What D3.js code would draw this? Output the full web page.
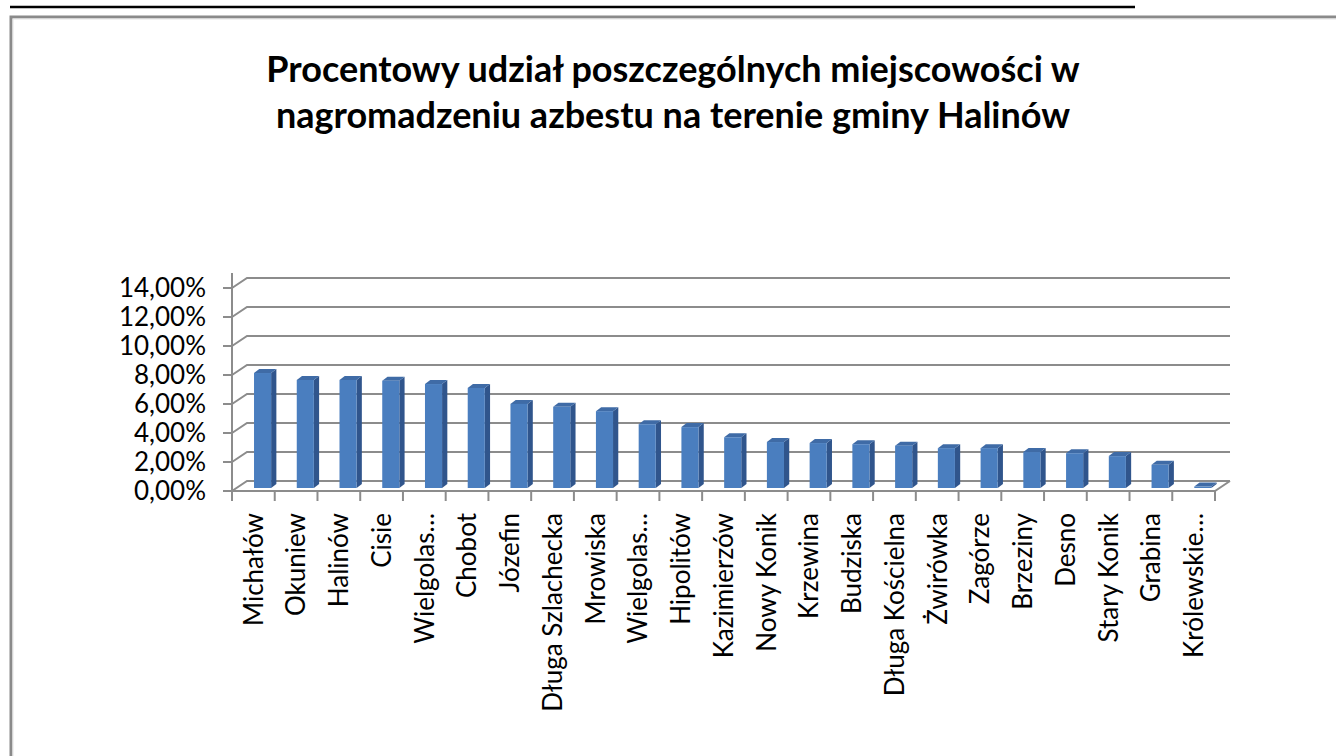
<!DOCTYPE html>
<html>
<head>
<meta charset="utf-8">
<script src="https://cdn.jsdelivr.net/npm/d3@7"></script>
<style>
  body { margin: 0; background: #fff; }
  svg { display: block; }
</style>
</head>
<body>
<svg id="chart" width="1336" height="756"></svg>
<script>
const titleLines = ["Procentowy udział poszczególnych miejscowości w",
                    "nagromadzeniu azbestu na terenie gminy Halinów"];

const places = ["Michałów", "Okuniew", "Halinów", "Cisie", "Wielgolas…", "Chobot", "Józefin",
                "Długa Szlachecka", "Mrowiska", "Wielgolas…", "Hipolitów", "Kazimierzów",
                "Nowy Konik", "Krzewina", "Budziska", "Długa Kościelna", "Żwirówka", "Zagórze",
                "Brzeziny", "Desno", "Stary Konik", "Grabina", "Królewskie…"];

const shares = [7.93, 7.45, 7.45, 7.40, 7.17, 6.90, 5.80, 5.60, 5.30, 4.40, 4.20, 3.50,
                3.17, 3.10, 3.02, 2.92, 2.75, 2.75, 2.48, 2.40, 2.20, 1.60, 0.10];

const yTicks = [0, 2, 4, 6, 8, 10, 12, 14];

class Chart3D{
    constructor(svg){
        this.svg = svg;
        this.left = 232;
        this.right = 1215;
        this.base = 491;
        this.top = 288;
        this.depth = [15, -10];   // shift from the front plane to the back wall
        this.font = "Lato, 'Open Sans', sans-serif";

        this.x = d3.scaleBand().domain(d3.range(places.length)).range([this.left, this.right]);
        this.y = d3.scaleLinear().domain([0, 14]).range([this.base, this.top]);
    }

    frame(){
        this.svg.append("line")
            .attr("x1", 10).attr("x2", 1135)
            .attr("y1", 7).attr("y2", 7)
            .attr("stroke", "#000").attr("stroke-width", 2.5);
        this.svg.append("rect")
            .attr("x", 11).attr("y", 17)
            .attr("width", 1400).attr("height", 800)
            .attr("fill", "none")
            .attr("stroke", "#8a8a8a").attr("stroke-width", 3);
        this.svg.append("rect")
            .attr("x", 13).attr("y", 19)
            .attr("width", 1400).attr("height", 800)
            .attr("fill", "none")
            .attr("stroke", "#e4e4e4").attr("stroke-width", 1);
    }

    title(){
        this.svg.append("g").selectAll("text")
            .data(titleLines)
            .join("text")
                .attr("x", 673)
                .attr("y", (d, i) => 82 + i * 46)
                .attr("text-anchor", "middle")
                .attr("font-family", this.font)
                .attr("font-weight", "bold")
                .attr("font-size", 36)
                .attr("fill", "#000")
                .text(d => d);
    }

    walls(){
        let [dx, dy] = this.depth;
        let g = this.svg.append("g")
            .attr("stroke", "#8c8c8c")
            .attr("stroke-width", 2)
            .attr("fill", "none");

        // back wall grid + left wall diagonals
        yTicks.forEach(t => {
            let yy = this.y(t);
            g.append("polyline")
                .attr("points", [[this.left, yy], [this.left + dx, yy + dy], [this.right + dx, yy + dy]].join(" "));
        });

        // floor
        g.append("polyline")
            .attr("points", [[this.left, this.base], [this.right, this.base], [this.right + dx, this.base + dy]].join(" "));

        // value axis and its ticks
        g.append("line")
            .attr("x1", this.left).attr("x2", this.left)
            .attr("y1", this.top - 15).attr("y2", this.base + 2);
        g.selectAll(".ytick")
            .data(yTicks)
            .join("line")
                .attr("x1", this.left - 9).attr("x2", this.left)
                .attr("y1", d => this.y(d)).attr("y2", d => this.y(d));

        // category ticks below the floor
        let edges = d3.range(places.length + 1).map(i => this.left + i * this.x.step());
        g.selectAll(".xtick")
            .data(edges)
            .join("line")
                .attr("x1", d => d).attr("x2", d => d)
                .attr("y1", this.base).attr("y2", this.base + 10);
    }

    labels(){
        this.svg.append("g").selectAll("text")
            .data(yTicks)
            .join("text")
                .attr("x", 206)
                .attr("y", d => this.y(d))
                .attr("dy", "0.36em")
                .attr("text-anchor", "end")
                .attr("font-family", this.font)
                .attr("font-size", 26)
                .attr("fill", "#000")
                .text(d => d3.format(".2f")(d).replace(".", ",") + "%");

        this.svg.append("g").selectAll("text")
            .data(places)
            .join("text")
                .attr("transform", (d, i) => `translate(${this.x(i) + this.x.bandwidth() / 2},513) rotate(-90)`)
                .attr("dy", "0.36em")
                .attr("text-anchor", "end")
                .attr("font-family", this.font)
                .attr("font-size", 26)
                .attr("fill", "#000")
                .text(d => d);
    }

    bars(){
        /*
        Each column is a box: front face, right side and top,
        set a bit back into the depth of the plot.
        */
        let [dx, dy] = this.depth;
        let sx = dx * 0.3, sy = dy * 0.3;          // position inside the depth
        let bx = dx * 0.35, by = dy * 0.4;         // own depth of the column
        let w = this.x.bandwidth() * 0.4;
        let data = shares.map((v, i) => ({v: v, i: i}));

        let g = this.svg.append("g").selectAll("g")
            .data(data)
            .join("g");

        let x0 = d => this.x(d.i) + this.x.bandwidth() * 0.41 + sx;
        let yTop = d => this.y(d.v) + sy;
        let yBot = this.y(0) + sy;

        g.append("polygon")
            .attr("fill", "#30558c")
            .attr("points", d => [[x0(d) + w, yTop(d)], [x0(d) + w + bx, yTop(d) + by],
                                  [x0(d) + w + bx, yBot + by], [x0(d) + w, yBot]].join(" "));
        g.append("polygon")
            .attr("fill", "#3f6ba6")
            .attr("points", d => [[x0(d), yTop(d)], [x0(d) + bx, yTop(d) + by],
                                  [x0(d) + w + bx, yTop(d) + by], [x0(d) + w, yTop(d)]].join(" "));
        g.append("rect")
            .attr("fill", "#4a7ebf")
            .attr("x", d => x0(d))
            .attr("y", d => yTop(d))
            .attr("width", w)
            .attr("height", d => yBot - yTop(d));
    }

    make(){
        this.frame();
        this.title();
        this.walls();
        this.bars();
        this.labels();
    }
}

new Chart3D(d3.select("#chart")).make();
</script>
</body>
</html>
